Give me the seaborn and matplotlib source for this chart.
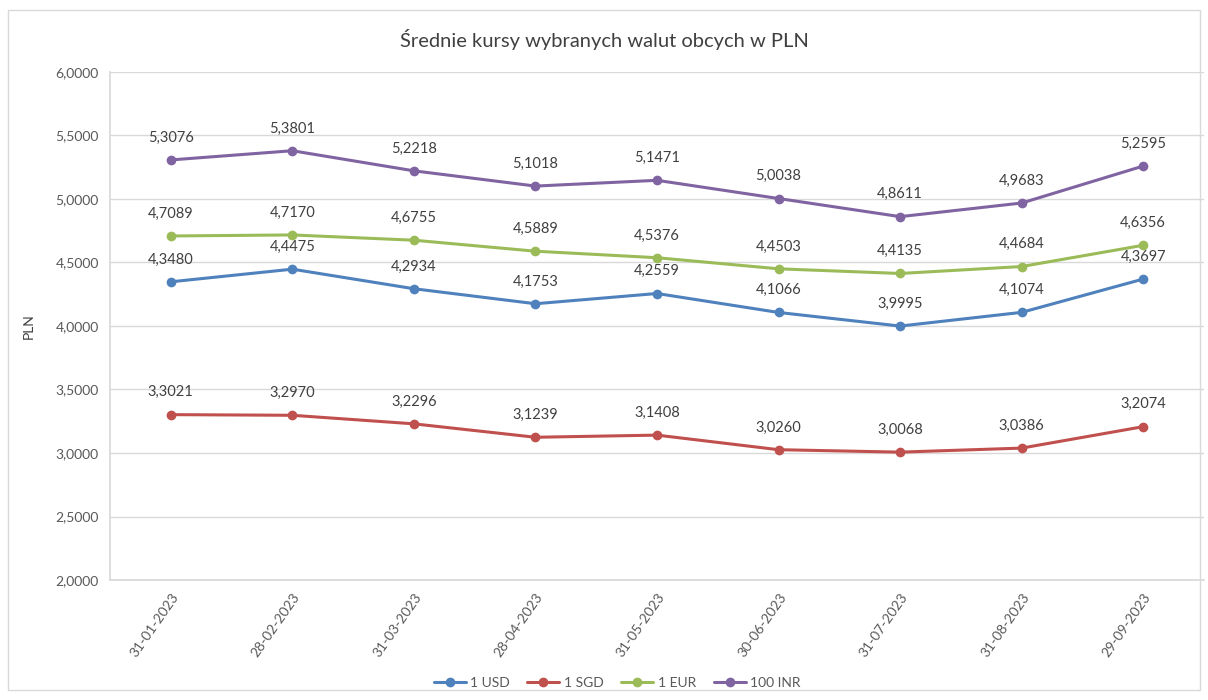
import matplotlib
matplotlib.use("Agg")
import matplotlib.pyplot as plt
import seaborn as sns
import pandas as pd
from matplotlib.patches import Rectangle

dates = ["31-01-2023", "28-02-2023", "31-03-2023", "28-04-2023", "31-05-2023",
         "30-06-2023", "31-07-2023", "31-08-2023", "29-09-2023"]
usd = [4.3480, 4.4475, 4.2934, 4.1753, 4.2559, 4.1066, 3.9995, 4.1074, 4.3697]
sgd = [3.3021, 3.2970, 3.2296, 3.1239, 3.1408, 3.0260, 3.0068, 3.0386, 3.2074]
eur = [4.7089, 4.7170, 4.6755, 4.5889, 4.5376, 4.4503, 4.4135, 4.4684, 4.6356]
inr = [5.3076, 5.3801, 5.2218, 5.1018, 5.1471, 5.0038, 4.8611, 4.9683, 5.2595]
series_names = ["1 USD", "1 SGD", "1 EUR", "100 INR"]
colors = ["#4F81BD", "#C0504D", "#9BBB59", "#8064A2"]

sns.set_theme(style="white")
plt.rcParams["font.family"] = ["Lato", "DejaVu Sans"]

rows = []
for name, vals in zip(series_names, [usd, sgd, eur, inr]):
    for i, (d, v) in enumerate(zip(dates, vals)):
        rows.append({"Data": d, "idx": i, "Kurs": v, "Waluta": name})
df = pd.DataFrame(rows)

fig = plt.figure(figsize=(12.08, 7.0), dpi=100)
ax = fig.add_axes([110/1208, 120/700, (1204-110)/1208, (580-72)/700])

sns.lineplot(data=df, x="idx", y="Kurs", hue="Waluta", hue_order=series_names,
             palette=colors, marker="o", markersize=7, markeredgewidth=0,
             linewidth=2.2, ax=ax, legend=True)

for name, vals, c in zip(series_names, [usd, sgd, eur, inr], colors):
    for i, v in enumerate(vals):
        ax.annotate(f"{v:.4f}".replace(".", ","), (i, v), xytext=(0, 11),
                    textcoords="offset points", ha="center", va="bottom",
                    fontsize=10.5, color="#404040")

ax.set_xlim(-0.5, len(dates) - 0.5)
ax.set_ylim(2.0, 6.0)
ax.set_yticks([2.0, 2.5, 3.0, 3.5, 4.0, 4.5, 5.0, 5.5, 6.0])
ax.set_yticklabels([f"{t:.4f}".replace(".", ",") for t in ax.get_yticks()],
                   fontsize=10, color="#595959")
ax.set_xticks(range(len(dates)))
ax.set_xticklabels(dates, rotation=55, ha="right", rotation_mode="anchor",
                   fontsize=10, color="#595959")
ax.tick_params(axis="both", length=0, pad=8)
ax.yaxis.grid(True, color="#D9D9D9", linewidth=1)
ax.set_axisbelow(True)
for s in ["top", "right"]:
    ax.spines[s].set_visible(False)
ax.spines["left"].set_color("#D9D9D9")
ax.spines["bottom"].set_color("#D9D9D9")
ax.set_xlabel("")
ax.set_ylabel("PLN", fontsize=10, color="#404040")
ax.yaxis.set_label_coords((35 - 110) / 1094, 0.5)

fig.suptitle("Średnie kursy wybranych walut obcych w PLN", y=1 - 40/700,
             fontsize=14.5, color="#404040", va="center")

leg = ax.legend(loc="center", ncol=4, frameon=False, fontsize=10,
                handlelength=2.3, columnspacing=1.3, handletextpad=0.3,
                bbox_to_anchor=(617 / 1208, 17 / 700),
                bbox_transform=fig.transFigure)
for t in leg.get_texts():
    t.set_color("#595959")

fig.patches.append(Rectangle((8/1208, 10/700), (1200-8)/1208, (690-10)/700,
                             transform=fig.transFigure, fill=False,
                             edgecolor="#D9D9D9", linewidth=1))
fig.savefig("out.png", dpi=100)
